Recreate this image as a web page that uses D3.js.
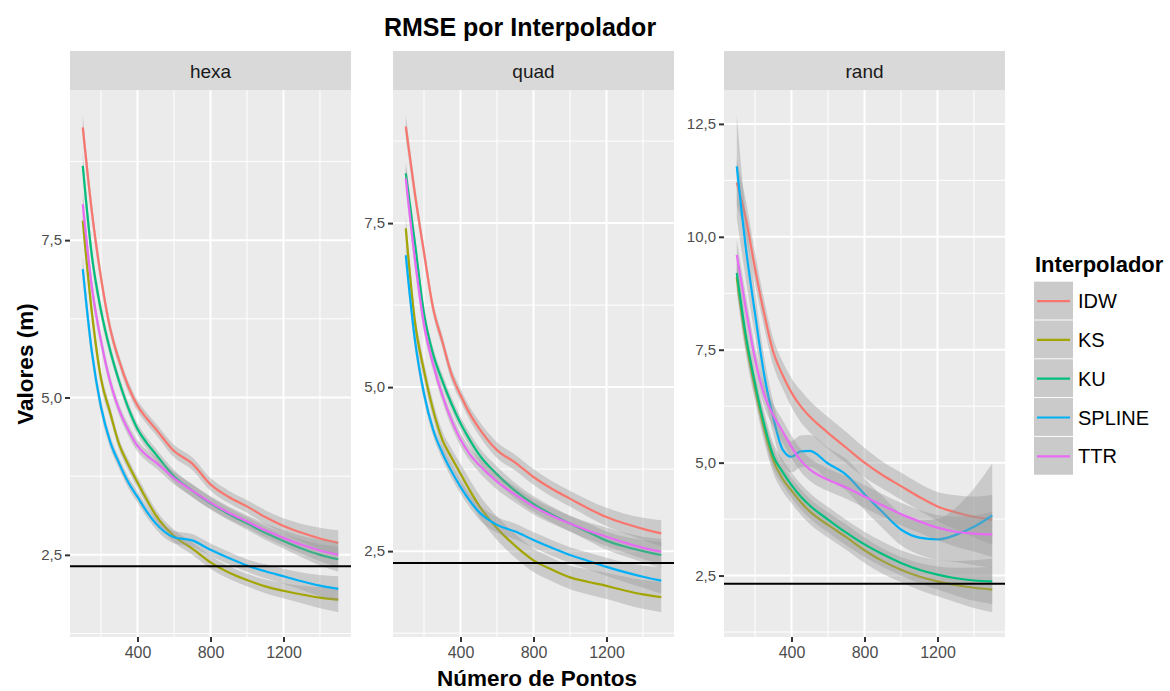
<!DOCTYPE html>
<html lang="pt">
<head>
<meta charset="UTF-8">
<title>RMSE por Interpolador</title>
<script src="https://cdn.jsdelivr.net/npm/d3@7"></script>
<style>
    body { margin: 0; background: #fff; }
    svg { display: block; font-family: "Liberation Sans", Arial, sans-serif; }
</style>
</head>
<body>
<svg id="chart" width="1170" height="691"></svg>
<script>
// numero de pontos (eixo x)
const pontos = [100, 150, 200, 250, 300, 350, 400, 450, 500, 600, 700, 800, 900, 1000, 1100, 1200, 1300, 1400, 1500];
const interpoladores = ["IDW", "KS", "KU", "SPLINE", "TTR"];
const cores = ["#F8766D", "#A3A500", "#00BF7D", "#00B0F6", "#E76BF3"];
const paineis = ["hexa", "quad", "rand"];
const linhaRef = 2.32;

// hexa
const hexaIDW    = [9.29, 7.95, 6.9, 6.1, 5.58, 5.17, 4.87, 4.67, 4.5, 4.15, 3.95, 3.62, 3.42, 3.27, 3.1, 2.96, 2.85, 2.76, 2.69];
const hexaKS     = [7.81, 6.35, 5.3, 4.76, 4.25, 3.93, 3.65, 3.38, 3.13, 2.8, 2.6, 2.38, 2.22, 2.1, 2.0, 1.93, 1.87, 1.82, 1.79];
const hexaKU     = [8.68, 7.25, 6.38, 5.75, 5.25, 4.83, 4.5, 4.28, 4.1, 3.75, 3.52, 3.32, 3.15, 3.0, 2.85, 2.72, 2.6, 2.5, 2.43];
const hexaSPLINE = [7.04, 5.72, 4.85, 4.3, 3.95, 3.65, 3.42, 3.19, 3.0, 2.78, 2.73, 2.58, 2.45, 2.33, 2.24, 2.16, 2.08, 2.01, 1.96];
const hexaTTR    = [8.07, 6.75, 5.9, 5.25, 4.8, 4.48, 4.23, 4.08, 3.97, 3.72, 3.52, 3.33, 3.17, 3.03, 2.89, 2.77, 2.66, 2.57, 2.5];
const hexaSE     = [0.2, 0.15, 0.12, 0.1, 0.09, 0.09, 0.09, 0.09, 0.09, 0.1, 0.1, 0.1, 0.1, 0.1, 0.11, 0.12, 0.14, 0.17, 0.2];

// quad
const quadIDW    = [8.97, 7.95, 7.05, 6.2, 5.7, 5.2, 4.88, 4.6, 4.38, 4.04, 3.85, 3.63, 3.45, 3.3, 3.15, 3.02, 2.92, 2.84, 2.77];
const quadKS     = [7.42, 6.0, 5.25, 4.65, 4.2, 3.93, 3.68, 3.43, 3.2, 2.85, 2.58, 2.36, 2.22, 2.1, 2.03, 1.97, 1.9, 1.84, 1.8];
const quadKU     = [8.26, 7.2, 6.12, 5.5, 5.1, 4.75, 4.45, 4.2, 3.98, 3.67, 3.42, 3.22, 3.06, 2.92, 2.79, 2.66, 2.57, 2.5, 2.44];
const quadSPLINE = [7.01, 5.72, 4.9, 4.35, 4.0, 3.72, 3.48, 3.27, 3.1, 2.9, 2.8, 2.67, 2.55, 2.44, 2.35, 2.26, 2.18, 2.11, 2.05];
const quadTTR    = [8.18, 6.95, 5.95, 5.35, 4.88, 4.5, 4.2, 3.98, 3.82, 3.56, 3.36, 3.18, 3.04, 2.92, 2.81, 2.72, 2.63, 2.55, 2.49];
const quadSE     = [0.18, 0.14, 0.12, 0.1, 0.1, 0.1, 0.1, 0.1, 0.11, 0.12, 0.12, 0.12, 0.12, 0.12, 0.13, 0.14, 0.15, 0.17, 0.2];
const quadSEKS   = [0.2, 0.16, 0.14, 0.13, 0.13, 0.14, 0.15, 0.16, 0.17, 0.18, 0.18, 0.18, 0.18, 0.18, 0.19, 0.2, 0.21, 0.22, 0.23];

// rand
const randIDW    = [11.2, 10.4, 9.3, 8.3, 7.45, 6.95, 6.55, 6.25, 6.02, 5.66, 5.33, 5.0, 4.72, 4.48, 4.24, 4.03, 3.9, 3.8, 3.74];
const randKS     = [9.1, 7.7, 6.65, 5.75, 5.05, 4.65, 4.38, 4.13, 3.92, 3.62, 3.35, 3.06, 2.82, 2.63, 2.48, 2.37, 2.29, 2.23, 2.19];
const randKU     = [9.2, 7.8, 6.75, 5.85, 5.15, 4.8, 4.5, 4.25, 4.05, 3.74, 3.45, 3.19, 2.97, 2.78, 2.63, 2.52, 2.44, 2.39, 2.37];
const randSPLINE = [11.56, 9.75, 8.3, 6.95, 6.0, 5.3, 5.13, 5.25, 5.26, 4.98, 4.73, 4.3, 3.9, 3.52, 3.34, 3.3, 3.4, 3.58, 3.83];
const randTTR    = [9.6, 8.4, 7.3, 6.5, 6.05, 5.7, 5.35, 5.05, 4.85, 4.62, 4.45, 4.25, 4.05, 3.86, 3.7, 3.56, 3.47, 3.43, 3.41];
const randSEIDW    = [0.5, 0.4, 0.35, 0.3, 0.3, 0.3, 0.32, 0.35, 0.35, 0.35, 0.35, 0.33, 0.3, 0.3, 0.3, 0.32, 0.38, 0.45, 0.55];
const randSEKS     = [0.35, 0.3, 0.28, 0.28, 0.28, 0.28, 0.28, 0.28, 0.28, 0.28, 0.28, 0.28, 0.28, 0.28, 0.3, 0.33, 0.38, 0.45, 0.5];
const randSEKU     = [0.35, 0.3, 0.28, 0.28, 0.28, 0.28, 0.28, 0.28, 0.28, 0.28, 0.28, 0.28, 0.28, 0.28, 0.3, 0.33, 0.38, 0.45, 0.5];
const randSESPLINE = [1.14, 0.7, 0.5, 0.4, 0.35, 0.35, 0.35, 0.35, 0.35, 0.35, 0.35, 0.35, 0.35, 0.35, 0.38, 0.45, 0.6, 0.85, 1.15];
const randSETTR    = [0.35, 0.3, 0.28, 0.25, 0.25, 0.25, 0.25, 0.25, 0.25, 0.25, 0.25, 0.25, 0.25, 0.25, 0.25, 0.28, 0.33, 0.4, 0.5];

const dados = {
    hexa: [[hexaIDW, hexaSE], [hexaKS, hexaSE], [hexaKU, hexaSE], [hexaSPLINE, hexaSE], [hexaTTR, hexaSE]],
    quad: [[quadIDW, quadSE], [quadKS, quadSEKS], [quadKU, quadSE], [quadSPLINE, quadSE], [quadTTR, quadSE]],
    rand: [[randIDW, randSEIDW], [randKS, randSEKS], [randKU, randSEKU], [randSPLINE, randSESPLINE], [randTTR, randSETTR]]
};

const svg = d3.select("#chart");
const fmt = d3.formatLocale({decimal: ",", thousands: ".", grouping: [3], currency: ["", ""]}).format(".1f");

const plotTop = 90, plotBottom = 637, stripTop = 51, panelW = 281;
const lefts = [70, 393, 724];

paineis.forEach(function (nome, i) {
    const series = dados[nome].map(function (s, k) {
        return {
            nome: interpoladores[k],
            cor: cores[k],
            pts: pontos.map(function (x, j) {
                return {x: x, y: s[0][j], lo: s[0][j] - s[1][j], hi: s[0][j] + s[1][j]};
            })
        };
    });

    // escala y livre, com 5% de folga como no ggplot
    const lo = d3.min(series, s => d3.min(s.pts, p => p.lo));
    const hi = d3.max(series, s => d3.max(s.pts, p => p.hi));
    const pad = (hi - lo) * 0.05;
    const y = d3.scaleLinear().domain([lo - pad, hi + pad]).range([plotBottom, plotTop]);

    const xr = d3.extent(pontos);
    const xpad = (xr[1] - xr[0]) * 0.05;
    const x = d3.scaleLinear().domain([xr[0] - xpad, xr[1] + xpad]).range([lefts[i], lefts[i] + panelW]);

    const g = svg.append("g");

    g.append("rect")
        .attr("x", lefts[i]).attr("y", plotTop)
        .attr("width", panelW).attr("height", plotBottom - plotTop)
        .attr("fill", "#ebebeb");

    const yMajor = d3.range(Math.ceil(y.domain()[0] / 2.5) * 2.5, y.domain()[1], 2.5);
    const yMinor = d3.range(Math.ceil((y.domain()[0] - 1.25) / 2.5) * 2.5 + 1.25, y.domain()[1], 2.5)
        .filter(v => v > y.domain()[0]);
    const xMajor = [400, 800, 1200];
    const xMinor = [200, 600, 1000, 1400];

    g.selectAll(".ymin").data(yMinor).enter().append("line")
        .attr("x1", lefts[i]).attr("x2", lefts[i] + panelW)
        .attr("y1", d => y(d)).attr("y2", d => y(d))
        .attr("stroke", "#fff").attr("stroke-width", 1);
    g.selectAll(".xmin").data(xMinor).enter().append("line")
        .attr("x1", d => x(d)).attr("x2", d => x(d))
        .attr("y1", plotTop).attr("y2", plotBottom)
        .attr("stroke", "#fff").attr("stroke-width", 1);
    g.selectAll(".ymaj").data(yMajor).enter().append("line")
        .attr("x1", lefts[i]).attr("x2", lefts[i] + panelW)
        .attr("y1", d => y(d)).attr("y2", d => y(d))
        .attr("stroke", "#fff").attr("stroke-width", 2);
    g.selectAll(".xmaj").data(xMajor).enter().append("line")
        .attr("x1", d => x(d)).attr("x2", d => x(d))
        .attr("y1", plotTop).attr("y2", plotBottom)
        .attr("stroke", "#fff").attr("stroke-width", 2);

    const area = d3.area().x(d => x(d.x)).y0(d => y(d.lo)).y1(d => y(d.hi)).curve(d3.curveMonotoneX);
    const line = d3.line().x(d => x(d.x)).y(d => y(d.y)).curve(d3.curveMonotoneX);

    series.forEach(function (s) {
        g.append("path").attr("d", area(s.pts))
            .attr("fill", "#999999").attr("fill-opacity", 0.4);
        g.append("path").attr("d", line(s.pts))
            .attr("fill", "none").attr("stroke", s.cor).attr("stroke-width", 2.2);
    });

    g.append("line")
        .attr("x1", lefts[i]).attr("x2", lefts[i] + panelW)
        .attr("y1", y(linhaRef)).attr("y2", y(linhaRef))
        .attr("stroke", "#000").attr("stroke-width", 2);

    // faixa do painel
    g.append("rect")
        .attr("x", lefts[i]).attr("y", stripTop)
        .attr("width", panelW).attr("height", plotTop - stripTop)
        .attr("fill", "#d9d9d9");
    g.append("text")
        .attr("x", lefts[i] + panelW / 2).attr("y", (stripTop + plotTop) / 2 + 7)
        .attr("text-anchor", "middle").attr("font-size", 19).attr("fill", "#1a1a1a")
        .text(nome);

    // eixos
    const ay = g.append("g").attr("transform", `translate(${lefts[i]},0)`)
        .call(d3.axisLeft(y).tickValues(yMajor).tickFormat(fmt).tickSize(5).tickPadding(3));
    const ax = g.append("g").attr("transform", `translate(0,${plotBottom})`)
        .call(d3.axisBottom(x).tickValues(xMajor).tickFormat(d3.format("d")).tickSize(5).tickPadding(5));
    [ax, ay].forEach(function (a) {
        a.select(".domain").remove();
        a.selectAll(".tick line").attr("stroke", "#333").attr("stroke-width", 2);
        a.selectAll(".tick text").attr("fill", "#4d4d4d").attr("font-size", 15)
            .attr("font-family", "'Liberation Sans', Arial, sans-serif");
    });
    ax.selectAll(".tick text").attr("font-size", 16);
});

// titulos
svg.append("text").attr("x", 520).attr("y", 36).attr("text-anchor", "middle")
    .attr("font-size", 25).attr("font-weight", "bold").text("RMSE por Interpolador");
svg.append("text").attr("x", 537).attr("y", 686).attr("text-anchor", "middle")
    .attr("font-size", 22.5).attr("font-weight", "bold").text("Número de Pontos");
svg.append("text").attr("transform", "translate(33,364) rotate(-90)").attr("text-anchor", "middle")
    .attr("font-size", 22.5).attr("font-weight", "bold").text("Valores (m)");

// legenda
const leg = svg.append("g");
leg.append("text").attr("x", 1035).attr("y", 272)
    .attr("font-size", 22).attr("font-weight", "bold").text("Interpolador");
const keyH = 38.8, keyW = 39, keyTop = 281.7, keyX = 1034;
interpoladores.forEach(function (nome, k) {
    const ky = keyTop + k * keyH;
    leg.append("rect").attr("x", keyX).attr("y", ky).attr("width", keyW).attr("height", keyH - 1)
        .attr("fill", "#ebebeb");
    leg.append("rect").attr("x", keyX).attr("y", ky).attr("width", keyW).attr("height", keyH - 1)
        .attr("fill", "#999999").attr("fill-opacity", 0.4);
    leg.append("line").attr("x1", keyX + 3).attr("x2", keyX + keyW - 3)
        .attr("y1", ky + keyH / 2).attr("y2", ky + keyH / 2)
        .attr("stroke", cores[k]).attr("stroke-width", 2.2);
    leg.append("text").attr("x", 1078).attr("y", ky + keyH / 2 + 7)
        .attr("font-size", 20).attr("fill", "#000").text(nome);
});
</script>
</body>
</html>
